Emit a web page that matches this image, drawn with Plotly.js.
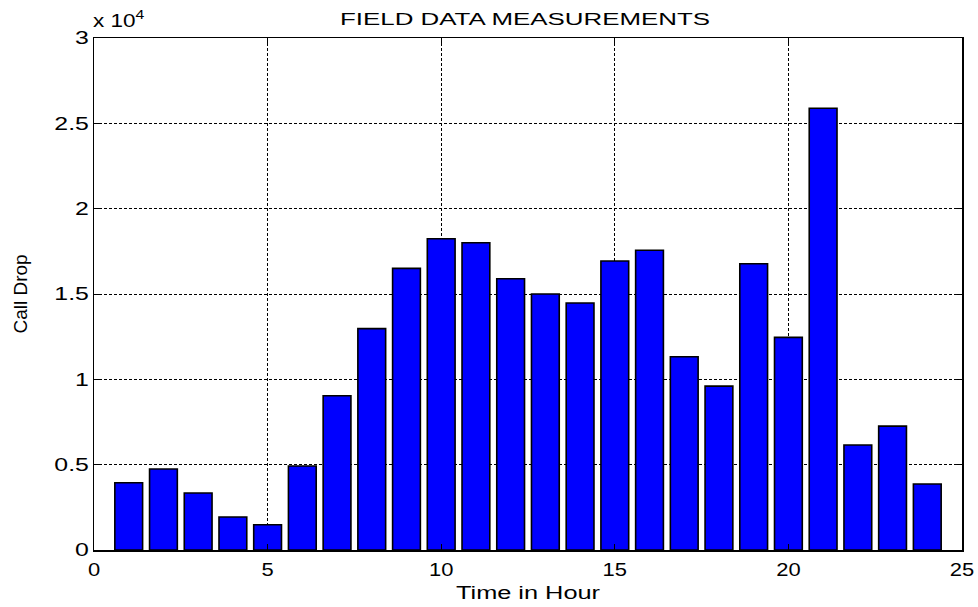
<!DOCTYPE html>
<html>
<head>
<meta charset="utf-8">
<script src="https://cdn.plot.ly/plotly-3.0.1.min.js"></script>
<style>html,body{margin:0;padding:0;background:#fff;}#chart{width:978px;height:607px;}</style>
</head>
<body>
<div id="chart"></div>
<script>
const hours = [1,2,3,4,5,6,7,8,9,10,11,12,13,14,15,16,17,18,19,20,21,22,23,24];
const callDrops = [3940,4750,3340,1930,1480,4920,9040,12970,16500,18240,18000,15890,15000,14470,16930,17560,11320,9600,16770,12460,25880,6150,7260,3870];
const xTicks = [0,5,10,15,20,25];
const yTickVals = [0,5000,10000,15000,20000,25000,30000];
const yTickText = ['0','0.5','1','1.5','2','2.5','3'];

const font = {family: 'Liberation Sans, Arial, sans-serif', color: '#000'};

const trace = {
  type: 'bar',
  x: hours,
  y: callDrops,
  width: 0.8,
  marker: {color: '#0000ff', line: {color: '#000', width: 1.6}},
  hoverinfo: 'x+y'
};

const layout = {
  width: 978, height: 607,
  margin: {l: 94, r: 16, t: 38, b: 57},
  paper_bgcolor: '#fff', plot_bgcolor: '#fff',
  showlegend: false,
  font: Object.assign({size: 18}, font),
  title: {text: 'FIELD DATA MEASUREMENTS', font: Object.assign({size: 16}, font),
          x: 525/978, xref: 'container', xanchor: 'center', yref: 'container', y: 1 - 19/607, yanchor: 'middle'},
  xaxis: {
    range: [0, 25], tickvals: xTicks, ticktext: xTicks.map(String),
    ticks: 'inside', ticklen: 6, tickcolor: '#000', tickwidth: 1,
    showline: true, linecolor: '#000', linewidth: 1.5, mirror: 'ticks',
    showgrid: true, gridcolor: '#000', gridwidth: 1, griddash: '3px,2px',
    zeroline: false, tickfont: Object.assign({size: 18}, font), ticklabelstandoff: 3,
    title: {text: 'Time in Hour', font: Object.assign({size: 18}, font), standoff: 7}
  },
  yaxis: {
    range: [0, 30000], tickvals: yTickVals, ticktext: yTickText,
    ticks: 'inside', ticklen: 6, tickcolor: '#000', tickwidth: 1,
    showline: true, linecolor: '#000', linewidth: 1.5, mirror: 'ticks',
    showgrid: true, gridcolor: '#000', gridwidth: 1, griddash: '3px,2px',
    zeroline: false, tickfont: Object.assign({size: 18}, font), ticklabelstandoff: 0,
    title: {text: 'Call Drop', font: Object.assign({size: 19}, font), standoff: 31}
  },
  annotations: [{
    text: 'x 10<sup>4</sup>', xref: 'paper', yref: 'paper', x: 0, y: 1,
    xanchor: 'left', yanchor: 'bottom', yshift: 5, xshift: 2, showarrow: false,
    font: Object.assign({size: 18}, font)
  }]
};

function stretchBy(sel, factor) {
  document.querySelectorAll(sel).forEach(function (t) {
    const w = t.getComputedTextLength();
    if (w > 0) {
      t.setAttribute('textLength', (w * factor).toFixed(2));
      t.setAttribute('lengthAdjust', 'spacingAndGlyphs');
    }
  });
}
function stretchTo(sel, width) {
  document.querySelectorAll(sel).forEach(function (t) {
    t.setAttribute('textLength', String(width));
    t.setAttribute('lengthAdjust', 'spacingAndGlyphs');
  });
}

Plotly.newPlot('chart', [trace], layout, {displayModeBar: false, staticPlot: true}).then(function () {
  stretchBy('.xtick text', 1.22);
  stretchBy('.ytick text', 1.38);
  stretchTo('.gtitle', 370);
  stretchTo('.g-xtitle text', 144);
  stretchBy('.annotation-text', 1.25);
});
</script>
</body>
</html>
